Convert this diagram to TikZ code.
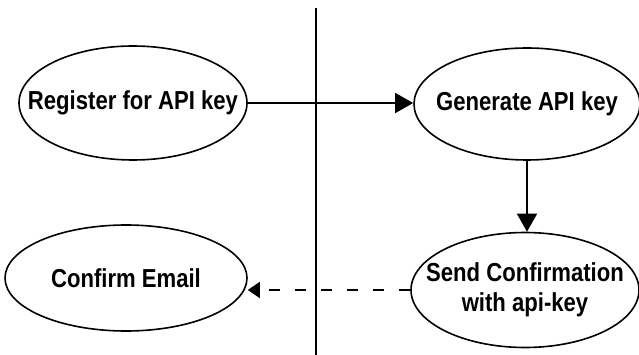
\documentclass[tikz,border=0pt]{standalone}
\usepackage{fontspec}
\setmainfont{Liberation Sans}[FakeStretch=0.85]
\usetikzlibrary{shapes.geometric,arrows.meta}
\begin{document}
\begin{tikzpicture}[x=1pt,y=-1pt,
  usecase/.style={ellipse,draw,line width=1.6pt,inner sep=0pt},
  casetext/.style={align=center,inner sep=0pt,
    font=\fontsize{26}{30}\selectfont\bfseries},
  flow/.style={line width=1.5pt,-{Triangle[length=18pt,width=20pt]}},
  reply/.style={line width=1.5pt,dash pattern=on 11pt off 15pt,
    -{Triangle[length=12pt,width=16pt]}}]
\useasboundingbox (0,0) rectangle (639,355);

% swimlane divider
\coordinate (divtop) at (316,8);
\coordinate (divbot) at (316,355);
\draw[line width=1.5pt] (divtop) -- (divbot);

% use cases (ellipse outline sized by hand, caption laid on top)
\node[usecase,minimum width=228pt,minimum height=114pt,
  label={[casetext]center:Register for API key}] (reg) at (133,103) {};
\node[usecase,minimum width=226pt,minimum height=112pt,
  label={[casetext]center:Generate API key}] (gen) at (527,104) {};
\node[usecase,minimum width=242pt,minimum height=106pt,
  label={[casetext]center:Confirm Email}] (conf) at (126,278) {};
\node[usecase,minimum width=228pt,minimum height=115pt,
  label={[casetext]center:Send Confirmation\\with api-key}] (send) at (525,290) {};

% connectors
\draw[flow] (reg.east) -- (reg.east -| gen.west);
\draw[flow] (gen.south) -- (gen.south |- send.north);
\draw[reply] (send.west) -- (send.west -| conf.east);
\end{tikzpicture}
\end{document}
